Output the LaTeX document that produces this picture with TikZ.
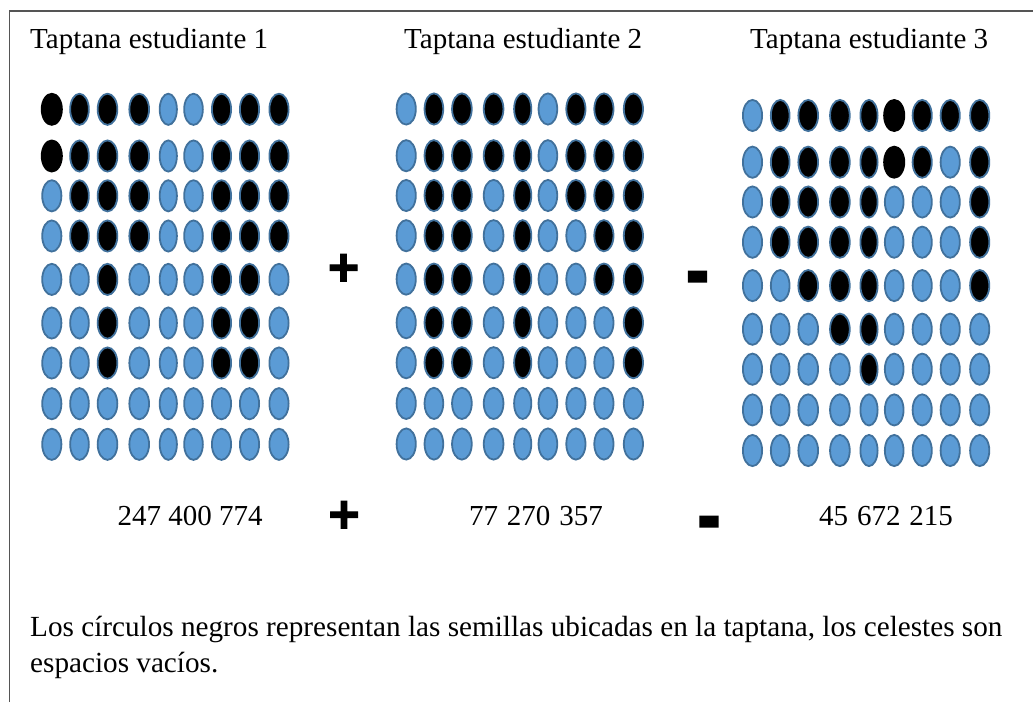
\documentclass[tikz,border=0pt]{standalone}
\usepackage{fontspec}
\setmainfont{Liberation Serif}
\newfontfamily\opfont{Liberation Sans}[BoldFeatures={FakeBold=1.8}]
\usetikzlibrary{shapes.geometric}
\definecolor{seedblue}{HTML}{5B9BD5}
\definecolor{seedline}{HTML}{41719C}
\definecolor{framegray}{HTML}{555555}
\tikzset{
  seedbase/.style={ellipse, inner sep=0pt, outer sep=0pt, line width=1.8pt, minimum height=31.2pt},
  seed0/.style={seedbase, draw=seedline, fill=seedblue},
  seed1/.style={seedbase, draw=seedline, fill=black},
  seed2/.style={seedbase, fill=black, minimum height=33pt, minimum width=22pt},
  title/.style={font=\fontsize{29}{34}\selectfont, inner sep=0pt, anchor=base west},
  numlabel/.style={font=\fontsize{29}{34}\selectfont, inner sep=0pt, anchor=base},
  opsign/.style={font=\opfont\bfseries\fontsize{54}{54}\selectfont, inner sep=0pt, anchor=base},
}
\newcommand\bigminus{\scalebox{1.3}[1.6]{-}}
\def\colx{{0,27.7,55.7,87.4,116.5,141.7,169.7,197.7,227.2}}
\def\colw{{21,20.5,21.5,21.5,19,20.5,21,21,21}}
\def\rowy{{0,46.7,86.5,126.7,170.1,213.7,253.7,294.4,335}}
\newcommand\seedgrid[4]{%
  \foreach \rw [count=\r] in {#4} {
    \foreach \cd [count=\k] in \rw {
      \pgfmathsetmacro\xx{#2+\colx[\k-1]}
      \pgfmathsetmacro\yy{#3+\rowy[\r-1]}
      \pgfmathsetmacro\ww{\colw[\k-1]-1.8}
      \node[minimum width=\ww pt, seed\cd] (#1-\r-\k) at (\xx,\yy) {};
    }
  }
}
\begin{document}
\begin{tikzpicture}[x=1pt,y=-1pt]
\useasboundingbox (0,0) rectangle (1033,702);
\coordinate (fb) at (9.5,702);
\coordinate (fc) at (9.5,11);
\coordinate (fr) at (1033,11);
\draw[framegray, line width=1.2pt] (fb) -- (fc) -- (fr);

\seedgrid{g1}{51.8}{109.3}{%
{2,1,1,1,0,0,1,1,1},
{2,1,1,1,0,0,1,1,1},
{0,1,1,1,0,0,1,1,1},
{0,1,1,1,0,0,1,1,1},
{0,0,1,0,0,0,1,1,0},
{0,0,1,0,0,0,1,1,0},
{0,0,1,0,0,0,1,1,0},
{0,0,0,0,0,0,0,0,0},
{0,0,0,0,0,0,0,0,0}}

\seedgrid{g2}{406.2}{109}{%
{0,1,1,1,1,0,1,1,1},
{0,1,1,1,1,0,1,1,1},
{0,1,1,0,1,0,1,1,1},
{0,1,1,0,1,0,0,1,1},
{0,1,1,0,1,0,0,1,1},
{0,1,1,0,1,0,0,0,1},
{0,1,1,0,1,0,0,0,1},
{0,0,0,0,0,0,0,0,0},
{0,0,0,0,0,0,0,0,0}}

\seedgrid{g3}{752.5}{115.5}{%
{0,1,1,1,1,2,1,1,1},
{0,1,1,1,1,2,1,0,1},
{0,1,1,1,1,0,0,0,1},
{0,1,1,1,1,0,0,0,1},
{0,0,1,1,1,0,0,0,1},
{0,0,0,1,1,0,0,0,0},
{0,0,0,0,1,0,0,0,0},
{0,0,0,0,0,0,0,0,0},
{0,0,0,0,0,0,0,0,0}}

\node[title] (t1) at (30,48.3) {Taptana estudiante 1};
\node[title] (t2) at (404,48.3) {Taptana estudiante 2};
\node[title] (t3) at (750,48.3) {Taptana estudiante 3};

\node[opsign] (p1) at (343.5,285.7) {+};
\node[opsign] (m1) at (697.5,299) {\bigminus};

\node[numlabel] (n1) at (190,525) {247 400 774};
\node[opsign] (p2) at (344,532.7) {+};
\node[numlabel] (n2) at (536,525) {77\hspace{9pt}270\hspace{9pt}357};
\node[opsign] (m2) at (709,544) {\bigminus};
\node[numlabel] (n3) at (886,525) {45\hspace{9pt}672\hspace{9pt}215};

\node[title] (d1) at (30,636.7) {\fontsize{29.2}{34}\selectfont Los círculos negros representan las semillas ubicadas en la taptana, los celestes son};
\node[title] (d2) at (30,672.7) {\fontsize{29.2}{34}\selectfont espacios vacíos.};
\end{tikzpicture}
\end{document}
